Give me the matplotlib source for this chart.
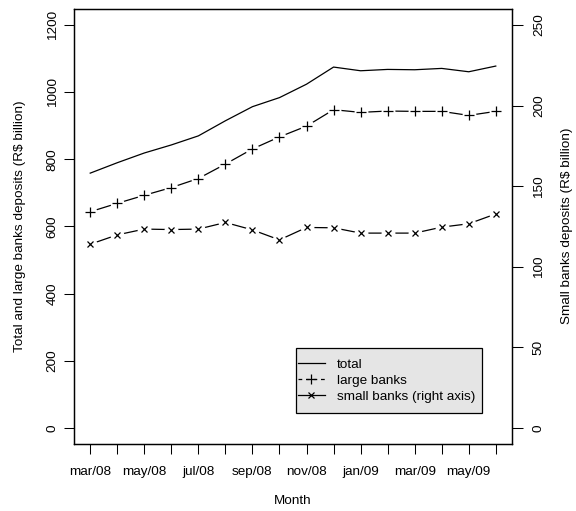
import matplotlib
matplotlib.use("Agg")
import matplotlib.pyplot as plt
from matplotlib.lines import Line2D
from matplotlib.patches import Rectangle

plt.rcParams['font.family'] = ['Liberation Sans', 'DejaVu Sans']

# monthly deposits, mar/08 .. jun/09
months = ["mar/08", "apr/08", "may/08", "jun/08", "jul/08", "aug/08", "sep/08", "oct/08",
          "nov/08", "dec/08", "jan/09", "feb/09", "mar/09", "apr/09", "may/09", "jun/09"]
total = [759, 790, 819, 843, 870, 915, 957, 984, 1024, 1075, 1064, 1068, 1067, 1071, 1061, 1078]
large = [644, 669, 693, 716, 743, 786, 831, 867, 899, 948, 940, 944, 943, 943, 931, 943]
small = [114.0, 119.8, 123.4, 123.1, 123.4, 127.5, 122.9, 116.7, 124.4, 124.2,
         120.9, 120.9, 120.9, 124.6, 126.7, 132.8]

x = list(range(1, len(months) + 1))
fs = 9.7
W, H = 576, 511

fig = plt.figure(figsize=(5.76, 5.11), dpi=100)
ax = fig.add_axes([74/W, 1 - 444/H, 438/W, 435/H])
ax2 = ax.twinx()

# R type="b": markers with gaps in the connecting lines (white discs mask the line)
gap = dict(linestyle='none', marker='o', ms=10, mfc='white', mec='none')
ax.plot(x, total, color='black', lw=0.9)
ax.plot(x, large, color='black', lw=0.9)
ax.plot(x, large, zorder=3, **gap)
ax.plot(x, large, linestyle='none', marker='+', ms=7, mew=0.9, color='black', zorder=4)
ax2.plot(x, small, color='black', lw=0.9)
ax2.plot(x, small, zorder=3, **gap)
ax2.plot(x, small, linestyle='none', marker='x', ms=5, mew=0.9, color='black', zorder=4)

ax.set_xlim(0.4, 16.6)
ax.set_ylim(-48, 1248)
ax2.set_ylim(-10, 260)

ax.set_xticks(x)
ax.set_xticklabels([m if i % 2 == 0 else "" for i, m in enumerate(months)], fontsize=fs)
ax.set_yticks([0, 200, 400, 600, 800, 1000, 1200])
ax.set_yticklabels(["0", "200", "400", "600", "800", "1000", "1200"], rotation=90,
                   va='center', fontsize=fs)
ax2.set_yticks([0, 50, 100, 150, 200, 250])
ax2.set_yticklabels(["0", "50", "100", "150", "200", "250"], rotation=90,
                    va='center', fontsize=fs)

ax.tick_params(axis='x', length=7, width=0.75, pad=9)
ax.tick_params(axis='y', length=7, width=0.75, pad=4)
ax2.tick_params(axis='y', length=8, width=0.75, pad=7)
for a in (ax, ax2):
    for s in a.spines.values():
        s.set_linewidth(0.9)

fig.text(20/W, 1 - 226/H, "Total and large banks deposits (R$ billion)",
         rotation=90, ha='center', va='center', fontsize=fs)
fig.text(567/W, 1 - 226/H, "Small banks deposits (R$ billion)",
         rotation=90, ha='center', va='center', fontsize=fs)
fig.text(293/W, 1 - 501/H, "Month", ha='center', va='center', fontsize=fs)

# legend box drawn by hand (R legend with bg="gray90")
box = Rectangle((296/W, 1 - 413/H), 186/W, 65/H, transform=fig.transFigure,
                facecolor='#e5e5e5', edgecolor='black', lw=0.9, zorder=5)
fig.patches.append(box)

handles = [
    Line2D([], [], color='black', lw=0.9),
    Line2D([], [], color='black', lw=0.9, linestyle=(0, (3, 3)), marker='+', ms=7, mew=0.9),
    Line2D([], [], color='black', lw=0.9, marker='x', ms=5, mew=0.9),
]
leg = fig.legend(handles, ["total", "large banks", "small banks (right axis)"],
                 loc='center left', bbox_to_anchor=(298/W, 1 - 380.5/H),
                 fontsize=fs, frameon=False,
                 handlelength=2.0, handletextpad=0.9, labelspacing=0.28,
                 borderpad=0, borderaxespad=0)
leg.set_zorder(6)

fig.savefig("out.png", dpi=100)
